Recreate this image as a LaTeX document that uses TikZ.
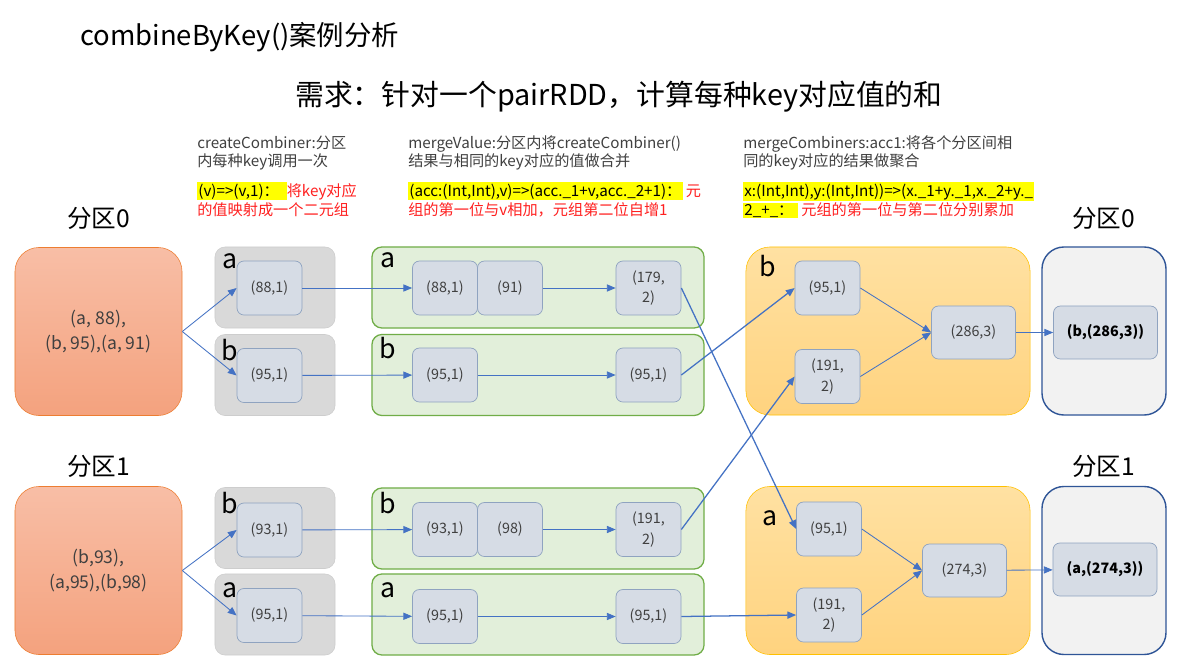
\documentclass[tikz,border=0pt]{standalone}
\usepackage{fontspec}
\setmainfont{Noto Sans CJK SC}
\usetikzlibrary{arrows.meta}

\definecolor{notegray}{HTML}{404040}
\definecolor{notered}{HTML}{FF2020}
\definecolor{hlyellow}{HTML}{FFFF00}
\definecolor{srcline}{HTML}{ED7D31}
\definecolor{srctop}{HTML}{F8BEA6}
\definecolor{srcbot}{HTML}{F4A27E}
\definecolor{keyfill}{HTML}{D9D9D9}
\definecolor{keyline}{HTML}{CDCDCD}
\definecolor{mvfill}{HTML}{E2EFDA}
\definecolor{mvline}{HTML}{70AD47}
\definecolor{mctop}{HTML}{FFE1A2}
\definecolor{mcbot}{HTML}{FFD37F}
\definecolor{mcline}{HTML}{FFC000}
\definecolor{resfill}{HTML}{F2F2F2}
\definecolor{resline}{HTML}{2F5597}
\definecolor{kvfill}{HTML}{D6DCE5}
\definecolor{kvline}{HTML}{8FA3C0}
\definecolor{flowblue}{HTML}{4472C4}

\newcommand{\marktext}[1]{{\setlength{\fboxsep}{0.8pt}\colorbox{hlyellow}{#1}}}

\tikzset{
  srcbox/.style={draw=srcline, top color=srctop, bottom color=srcbot, rounded corners=6mm,
    minimum width=4.175cm, minimum height=4.2cm, align=center, text=notegray,
    font=\fontsize{12.5}{17.5}\selectfont, inner sep=0pt},
  keybox/.style={draw=keyline, fill=keyfill, rounded corners=2.5mm,
    minimum width=3cm, minimum height=2.025cm, inner sep=0pt},
  mvbox/.style={draw=mvline, fill=mvfill, line width=0.9pt, rounded corners=2.5mm,
    minimum width=8.3cm, minimum height=2.025cm, inner sep=0pt},
  mcbox/.style={draw=mcline, top color=mctop, bottom color=mcbot, rounded corners=6mm,
    minimum width=7.1cm, minimum height=4.2cm, inner sep=0pt},
  resbox/.style={draw=resline, fill=resfill, line width=1pt, rounded corners=5.5mm,
    minimum width=3.1cm, minimum height=4.2cm, inner sep=0pt},
  kv/.style={draw=kvline, fill=kvfill, rounded corners=1.75mm, line width=0.5pt,
    minimum width=1.625cm, minimum height=1.35cm, inner sep=0pt, align=center,
    text=notegray, font=\fontsize{10.2}{14.5}\selectfont},
  kvwide/.style={kv, minimum width=2.1cm, minimum height=1.325cm},
  kvres/.style={kv, minimum width=2.6cm, minimum height=1.325cm, text=black,
    font=\fontsize{10.2}{14}\selectfont\bfseries},
  keylabel/.style={anchor=base west, inner sep=0pt, font=\fontsize{19}{19}\selectfont},
  partlabel/.style={anchor=base west, inner sep=0pt, font=\fontsize{17.5}{17.5}\selectfont},
  noteline/.style={anchor=base west, inner sep=0pt, text=notegray, font=\fontsize{10.8}{12}\selectfont},
  ruleline/.style={anchor=base west, inner sep=0pt, text=notered, font=\fontsize{10.8}{12}\selectfont},
  flow/.style={draw=flowblue, line width=0.6pt, -{Triangle[length=2.2mm, width=1.8mm]}},
  cross/.style={flow, line width=0.9pt}
}

\begin{document}
\begin{tikzpicture}[x=0.025cm, y=-0.025cm]
\useasboundingbox[fill=white] (0,0) rectangle (1180,672);

% titles
\node[anchor=base west, inner sep=0pt, font=\fontsize{19.5}{20}\selectfont] (title) at (80,45) {combineByKey()案例分析};
\node[anchor=base west, inner sep=0pt, font=\fontsize{20.5}{20}\selectfont] (task) at (295,105) {需求：针对一个pairRDD，计算每种key对应值的和};

% notes above the columns
\node[noteline] (note1a) at (197,148) {createCombiner:分区};
\node[noteline] (note1b) at (197,166) {内每种key调用一次};
\node[ruleline] (rule1a) at (197,196) {\marktext{\textcolor{black}{(v)=>(v,1)：\ \ }}将key对应};
\node[ruleline] (rule1b) at (197,215) {的值映射成一个二元组};

\node[noteline] (note2a) at (408,148) {mergeValue:分区内将createCombiner()};
\node[noteline] (note2b) at (408,166) {结果与相同的key对应的值做合并};
\node[ruleline] (rule2a) at (408,196) {\marktext{\textcolor{black}{(acc:(Int,Int),v)=>(acc.\_1+v,acc.\_2+1)：}} 元};
\node[ruleline] (rule2b) at (408,215) {组的第一位与v相加，元组第二位自增1};

\node[noteline] (note3a) at (743,148) {mergeCombiners:acc1:将各个分区间相};
\node[noteline] (note3b) at (743,166) {同的key对应的结果做聚合};
\node[ruleline] (rule3a) at (743,196) {\marktext{\textcolor{black}{x:(Int,Int),y:(Int,Int))=>(x.\_1+y.\_1,x.\_2+y.\_}}};
\node[ruleline] (rule3b) at (743,215) {\marktext{\textcolor{black}{2\_+\_：\ }} 元组的第一位与第二位分别累加};

% partition labels
\node[partlabel] (part0) at (67,227) {分区0};
\node[partlabel] (part1) at (67,475) {分区1};
\node[partlabel] (rpart0) at (1072,227) {分区0};
\node[partlabel] (rpart1) at (1072,475) {分区1};

% source partitions
\node[srcbox] (src0) at (98.5,331.5) {(a, 88),\\(b, 95),(a, 91)};
\node[srcbox] (src1) at (98.5,570.5) {(b,93),\\(a,95),(b,98)};

% createCombiner
\node[keybox] (cbox0a) at (275,287.5) {};
\node[keybox] (cbox0b) at (275,375) {};
\node[keybox] (cbox1b) at (275,528) {};
\node[keybox] (cbox1a) at (275,614.5) {};
\node[keylabel] at (222,268) {a};
\node[keylabel] at (221,360) {b};
\node[keylabel] at (221,513) {b};
\node[keylabel] at (222,597) {a};
\node[kv] (cb0a) at (269.5,288) {(88,1)};
\node[kv] (cb0b) at (269.5,375.5) {(95,1)};
\node[kv] (cb1b) at (269.5,530) {(93,1)};
\node[kv] (cb1a) at (269.5,615.5) {(95,1)};

% mergeValue
\node[mvbox] (mbox0a) at (538,287.5) {};
\node[mvbox] (mbox0b) at (538,375) {};
\node[mvbox] (mbox1b) at (538,528.5) {};
\node[mvbox] (mbox1a) at (538,614.5) {};
\node[keylabel] at (380,267) {a};
\node[keylabel] at (379,358) {b};
\node[keylabel] at (379,513) {b};
\node[keylabel] at (380,597) {a};
\node[kv] (mv0a1) at (445,288) {(88,1)};
\node[kv] (mv0a2) at (510,288) {(91)};
\node[kv] (mv0ar) at (648.5,288) {(179,\\2)};
\node[kv] (mv0b1) at (445,375) {(95,1)};
\node[kv] (mv0br) at (648.5,375) {(95,1)};
\node[kv] (mv1b1) at (445,529.5) {(93,1)};
\node[kv] (mv1b2) at (510,529.5) {(98)};
\node[kv] (mv1br) at (648.5,529.5) {(191,\\2)};
\node[kv] (mv1a1) at (445,616.5) {(95,1)};
\node[kv] (mv1ar) at (648.5,616.5) {(95,1)};

% mergeCombiners
\node[mcbox] (mcbox0) at (888,331) {};
\node[mcbox] (mcbox1) at (888,570.5) {};
\node[keylabel] at (759,276) {b};
\node[keylabel] at (762,525) {a};
\node[kv] (mcb1) at (827.5,288) {(95,1)};
\node[kv] (mcb2) at (827.5,376.5) {(191,\\2)};
\node[kvwide] (mcbr) at (973.5,332.5) {(286,3)};
\node[kv] (mca1) at (829,529) {(95,1)};
\node[kv] (mca2) at (829,615) {(191,\\2)};
\node[kvwide] (mcar) at (964.5,570.5) {(274,3)};

% results
\node[resbox] (rbox0) at (1104,331) {};
\node[resbox] (rbox1) at (1104,570.5) {};
\node[kvres] (resb) at (1105.5,332.5) {(b,(286,3))};
\node[kvres] (resa) at (1105,569.5) {(a,(274,3))};

% connectors
\draw[flow] (src0.east) -- (cb0a.west);
\draw[flow] (src0.east) -- (cb0b.west);
\draw[flow] (src1.east) -- (cb1b.west);
\draw[flow] (src1.east) -- (cb1a.west);
\draw[flow] (cb0a) -- (mv0a1);
\draw[flow] (cb0b) -- (mv0b1);
\draw[flow] (cb1b) -- (mv1b1);
\draw[flow] (cb1a) -- (mv1a1);
\draw[flow] (mv0a2) -- (mv0ar);
\draw[flow] (mv0b1) -- (mv0br);
\draw[flow] (mv1b2) -- (mv1br);
\draw[flow] (mv1a1) -- (mv1ar);
\draw[cross] (mv0ar.east) -- (mca1.west);
\draw[cross] (mv0br.east) -- (mcb1.west);
\draw[cross] (mv1br.east) -- (mcb2.west);
\draw[cross] (mv1ar.east) -- (mca2.west);
\draw[flow] (mcb1.east) -- (mcbr.west);
\draw[flow] (mcb2.east) -- (mcbr.west);
\draw[flow] (mca1.east) -- (mcar.west);
\draw[flow] (mca2.east) -- (mcar.west);
\draw[flow] (mcbr) -- (resb);
\draw[flow] (mcar) -- (resa);
\end{tikzpicture}
\end{document}
